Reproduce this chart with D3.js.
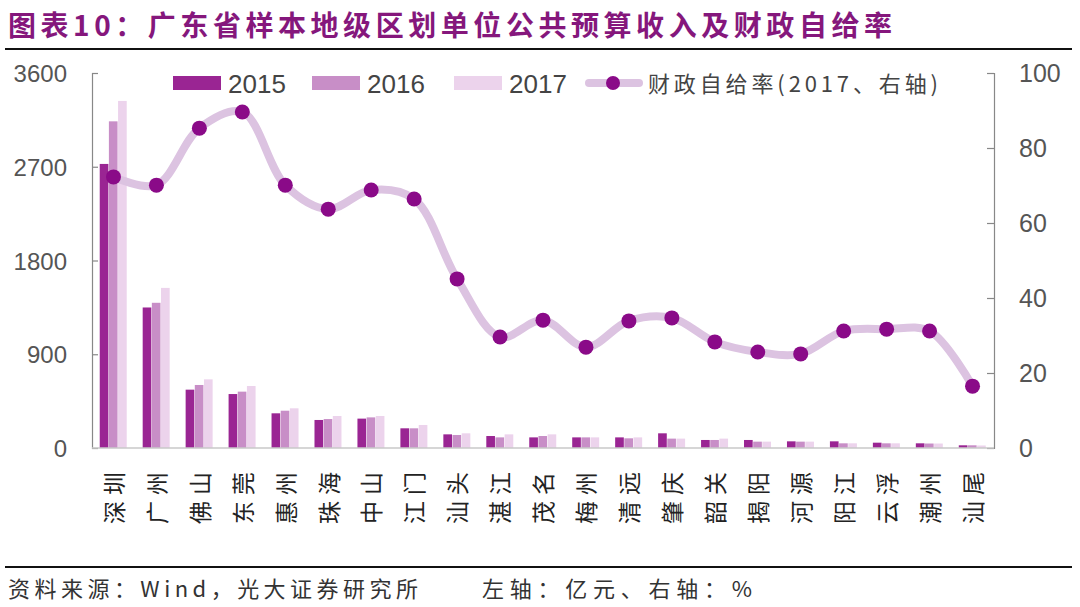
<!DOCTYPE html>
<html><head><meta charset="utf-8">
<script src="https://cdn.jsdelivr.net/npm/d3@7"></script>
<style>body{margin:0;background:#fff}svg{display:block}</style>
</head><body><svg id="c" width="1080" height="607"></svg>
<script>
const categories = ["深圳","广州","佛山","东莞","惠州","珠海","中山","江门","汕头","湛江","茂名","梅州","清远","肇庆","韶关","揭阳","河源","阳江","云浮","潮州","汕尾"];
const rev2015 = [2727,1349,560,518,333,269,282,189,131,115,102,102,102,141,77,77,64,64,51,45,26];
const rev2016 = [3136,1394,605,541,358,278,294,189,125,102,115,102,93,90,77,61,61,45,45,43,26];
const rev2017 = [3332,1537,659,595,381,307,307,221,141,131,131,102,102,90,90,61,61,45,45,43,24];
const selfRatio = [72.3,70.1,85.3,89.6,70.1,63.7,68.8,66.4,45.1,29.6,34.1,26.9,33.9,34.7,28.3,25.6,25.1,31.2,31.7,31.2,16.5];
const leftTicks = [0,900,1800,2700,3600];
const rightTicks = [0,20,40,60,80,100];
const seriesNames = ["2015","2016","2017"];
const lineName = "财政自给率(2017、右轴)";
const titleText = "图表10：广东省样本地级区划单位公共预算收入及财政自给率";
const sourceText = "资料来源：Wind，光大证券研究所";
const unitText = "左轴：亿元、右轴：%";
const colors = ["#9a2593","#c88ec7","#ecd3ec"];
const lineColor = "#dcc3e1", dotColor = "#8a0a88";

const svg = d3.select("#c");
const L = 92, R = 994, T = 73, B = 448;
const x0 = d3.scaleBand().domain(categories).range([L, R]).paddingInner(0.36).paddingOuter(0.18);
const x1 = d3.scaleBand().domain(seriesNames).range([0, x0.bandwidth()]);
const yL = d3.scaleLinear().domain([0,3600]).range([B,T]);
const yR = d3.scaleLinear().domain([0,100]).range([B,T]);
const font = "'Liberation Sans', Arial, sans-serif";
const cjk = "'Noto Sans CJK SC', sans-serif";

// title
svg.append("text").attr("x",8).attr("y",36).attr("fill","#85177c")
  .attr("font-family",cjk).attr("font-weight","bold").attr("font-size",28)
  .attr("textLength",884).attr("lengthAdjust","spacing").text(titleText);
svg.append("line").attr("x1",5).attr("x2",1072).attr("y1",49).attr("y2",49).attr("stroke","#111").attr("stroke-width",2);

// bars
const data = categories.map((c,i)=>({c, v:[rev2015[i],rev2016[i],rev2017[i]]}));
const g = svg.append("g");
data.forEach(d=>{
  d.v.forEach((v,k)=>{
    g.append("rect").attr("x", x0(d.c)+x1(seriesNames[k])).attr("width", x1.bandwidth()-0.5)
      .attr("y", yL(v)).attr("height", B - yL(v)).attr("fill", colors[k]);
  });
});

// axes
const axL = svg.append("g").attr("transform",`translate(${L},0)`)
  .call(d3.axisRight(yL).tickValues(leftTicks).tickSize(6).tickFormat(""));
axL.selectAll("path,line").attr("stroke","#888").attr("stroke-width",1.2);
leftTicks.forEach(t=>svg.append("text").attr("x",67).attr("y",yL(t)+9).attr("text-anchor","end")
  .attr("font-family",font).attr("font-size",24).attr("fill","#555").text(t));
const axR = svg.append("g").attr("transform",`translate(${R},0)`)
  .call(d3.axisLeft(yR).tickValues(rightTicks).tickSize(7).tickFormat(""));
axR.selectAll("path,line").attr("stroke","#888").attr("stroke-width",1.2);
rightTicks.forEach(t=>svg.append("text").attr("x",1019).attr("y",yR(t)+9).attr("text-anchor","start")
  .attr("font-family",font).attr("font-size",25).attr("fill","#555").text(t));
svg.append("line").attr("x1",L).attr("x2",R).attr("y1",B).attr("y2",B).attr("stroke","#c8c8c8").attr("stroke-width",1.5);

// line
const cxOf = i => x0(categories[i])+x0.bandwidth()/2;
const line = d3.line().x((d,i)=>cxOf(i)).y(d=>yR(d)).curve(d3.curveCatmullRom.alpha(0.5));
svg.append("path").datum(selfRatio).attr("d",line).attr("fill","none").attr("stroke",lineColor).attr("stroke-width",8).attr("stroke-linecap","round");
svg.selectAll(".dot").data(selfRatio).enter().append("circle")
  .attr("cx",(d,i)=>cxOf(i)).attr("cy",d=>yR(d)).attr("r",7.5).attr("fill",dotColor);

// x labels rotated -90 (read bottom to top)
categories.forEach((c,i)=>{
  svg.append("text").attr("transform",`translate(${cxOf(i)+1},466) rotate(-90)`)
    .attr("text-anchor","end").attr("dy","0.36em")
    .attr("font-family",cjk).attr("font-size",23).attr("letter-spacing",6).attr("fill","#222").text(c);
});

// legend
const lg = svg.append("g");
const lx = [173,312,454];
seriesNames.forEach((s,k)=>{
  lg.append("rect").attr("x",lx[k]).attr("y",76).attr("width",48).attr("height",14).attr("fill",colors[k]);
  lg.append("text").attr("x",lx[k]+55).attr("y",93).attr("font-family",font).attr("font-size",26).attr("fill","#444").text(s);
});
lg.append("line").attr("x1",589).attr("x2",639).attr("y1",83).attr("y2",83).attr("stroke",lineColor).attr("stroke-width",8).attr("stroke-linecap","round");
lg.append("circle").attr("cx",613).attr("cy",83).attr("r",7).attr("fill",dotColor);
lg.append("text").attr("x",648).attr("y",92).attr("font-family",cjk).attr("font-size",22).attr("fill","#444")
  .attr("textLength",290).attr("lengthAdjust","spacing").text(lineName);

// footer
svg.append("line").attr("x1",5).attr("x2",1072).attr("y1",567).attr("y2",567).attr("stroke","#111").attr("stroke-width",2);
svg.append("text").attr("x",8).attr("y",597).attr("font-family",cjk).attr("font-size",22).attr("fill","#333")
  .attr("textLength",410).attr("lengthAdjust","spacing").text(sourceText);
svg.append("text").attr("x",482).attr("y",597).attr("font-family",cjk).attr("font-size",22).attr("fill","#333")
  .attr("textLength",270).attr("lengthAdjust","spacing").text(unitText);
</script></body></html>
